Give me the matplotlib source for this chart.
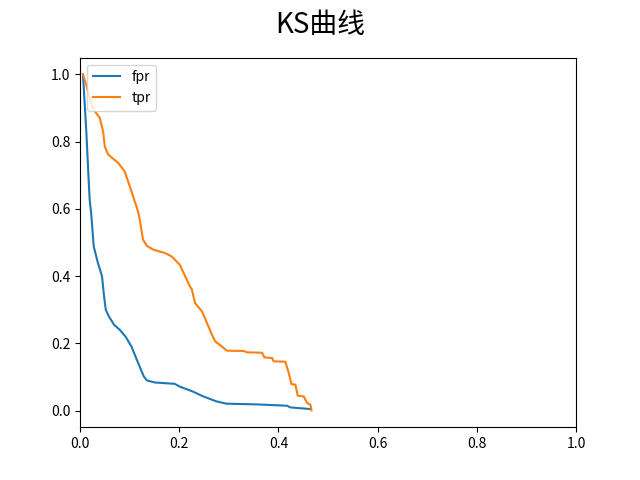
import matplotlib
matplotlib.use("Agg")
import matplotlib.pyplot as plt

plt.rcParams['font.family'] = ['Noto Sans CJK SC', 'DejaVu Sans']
plt.rcParams['axes.unicode_minus'] = False

fpr_x = [0.006, 0.0127, 0.0176, 0.0195, 0.0228, 0.0276, 0.036, 0.0444, 0.0485, 0.052,
         0.058, 0.069, 0.080, 0.092, 0.1037, 0.115, 0.1286, 0.135, 0.151, 0.191,
         0.2007, 0.2276, 0.2478, 0.2626, 0.2747, 0.295, 0.357, 0.4175, 0.424, 0.4646]
fpr_y = [1.0, 0.831, 0.682, 0.628, 0.583, 0.489, 0.44, 0.40, 0.34, 0.30,
         0.281, 0.255, 0.241, 0.22, 0.191, 0.15, 0.102, 0.09, 0.084, 0.080,
         0.072, 0.057, 0.043, 0.0347, 0.028, 0.021, 0.0188, 0.0149, 0.0099, 0.005]

tpr_x = [0.006, 0.012, 0.019, 0.026, 0.0397, 0.0465, 0.050, 0.0566, 0.0768, 0.090,
         0.1037, 0.109, 0.117, 0.1205, 0.127, 0.135, 0.1475, 0.171, 0.1845, 0.201,
         0.2215, 0.2256, 0.232, 0.2458, 0.256, 0.266, 0.2727, 0.286, 0.296, 0.33,
         0.3367, 0.367, 0.3717, 0.3872, 0.3906, 0.414, 0.4209, 0.4263, 0.4343, 0.439,
         0.451, 0.458, 0.4646, 0.4667]
tpr_y = [1.0, 0.972, 0.933, 0.898, 0.871, 0.831, 0.785, 0.762, 0.737, 0.712,
         0.653, 0.628, 0.593, 0.568, 0.509, 0.49, 0.479, 0.469, 0.459, 0.4345,
         0.37, 0.36, 0.32, 0.2955, 0.261, 0.226, 0.206, 0.191, 0.1786, 0.1776,
         0.1736, 0.1726, 0.1587, 0.1567, 0.1468, 0.1458, 0.112, 0.0794, 0.0774, 0.0446,
         0.0426, 0.0228, 0.018, 0.001]

fig, ax = plt.subplots(figsize=(6.4, 4.8), dpi=100)
ax.plot(fpr_x, fpr_y, label='fpr')
ax.plot(tpr_x, tpr_y, label='tpr')
ax.set_xlim(0, 1)
ax.legend(loc='upper left')
fig.suptitle('KS曲线', fontsize=20, fontweight='medium')
fig.savefig('out.png')
